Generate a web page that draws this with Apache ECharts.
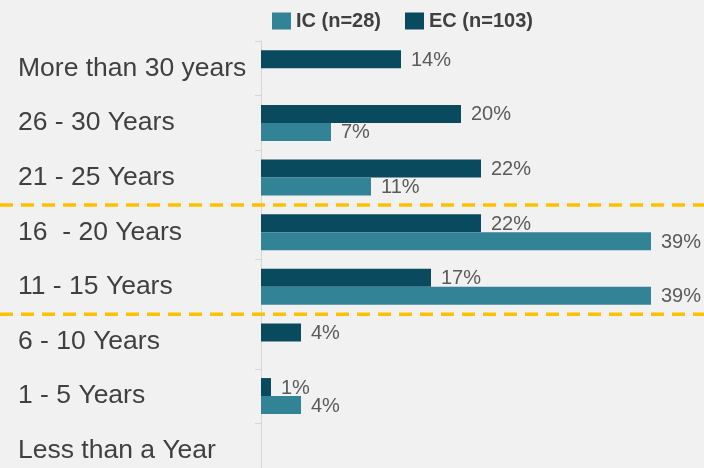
<!DOCTYPE html>
<html>
<head>
<meta charset="utf-8">
<script src="https://cdn.jsdelivr.net/npm/echarts@6/dist/echarts.min.js"></script>
<style>
  html, body { margin: 0; padding: 0; background: #f1f1f1; }
  #chart { width: 704px; height: 468px; }
</style>
</head>
<body>
<div id="chart"></div>
<script>
// Years of experience bands, top to bottom
const categories = [
  'More than 30 years', '26 - 30 Years', '21 - 25 Years', '16  - 20 Years',
  '11 - 15 Years', '6 - 10 Years', '1 - 5 Years', 'Less than a Year'
];
// Share of respondents (%) per band
const ecValues = [14, 20, 22, 22, 17, 4, 1, 0];
const icValues = [0, 7, 11, 39, 39, 0, 4, 0];
const seriesNames = ['IC (n=28)', 'EC (n=103)'];
// Band boundaries marked with dashed separators (between index i and i+1)
const separatorsAfter = [2, 4];

const EC_COLOR = '#0a4a5e';
const IC_COLOR = '#338396';

const labelStyle = {
  show: true,
  position: 'right',
  distance: 10,
  offset: [0, 1],
  fontFamily: 'Liberation Sans, Arial, sans-serif',
  fontSize: 20,
  color: '#5a5a5a',
  formatter: p => (p.value ? p.value + '%' : '')
};

const chart = echarts.init(document.getElementById('chart'), null, { renderer: 'canvas' });
chart.setOption({
  backgroundColor: '#f1f1f1',
  animation: false,
  legend: {
    data: [seriesNames[0], seriesNames[1]],
    left: 267,
    top: 6,
    itemWidth: 19,
    itemHeight: 17,
    itemGap: 24,
    icon: 'rect',
    textStyle: {
      fontFamily: 'Liberation Sans, Arial, sans-serif',
      fontSize: 20,
      fontWeight: 'bold',
      color: '#404040'
    }
  },
  grid: {
    left: 261, top: 41, width: 400, height: 437,
    containLabel: false, outerBoundsMode: 'none'
  },
  xAxis: {
    type: 'value', min: 0, max: 40, show: false
  },
  yAxis: {
    type: 'category',
    data: categories,
    inverse: true,
    axisLine: { show: true, lineStyle: { color: '#d6d6d6', width: 1 } },
    axisTick: { show: true, length: 6, lineStyle: { color: '#d6d6d6' } },
    axisLabel: {
      align: 'left',
      margin: 243,
      fontFamily: 'Liberation Sans, Arial, sans-serif',
      fontSize: 26.5,
      color: '#404040'
    }
  },
  series: [
    {
      name: seriesNames[1], type: 'bar', data: ecValues,
      barWidth: 18, barGap: '0%',
      itemStyle: { color: EC_COLOR },
      label: labelStyle
    },
    {
      name: seriesNames[0], type: 'bar', data: icValues,
      barWidth: 18, barGap: '0%',
      itemStyle: { color: IC_COLOR },
      label: labelStyle
    }
  ]
});

// Dashed separators across the full width, placed between bands
const lines = separatorsAfter.map(i => {
  const a = chart.convertToPixel({ yAxisIndex: 0 }, i);
  const b = chart.convertToPixel({ yAxisIndex: 0 }, i + 1);
  const y = (a + b) / 2;
  return {
    type: 'line',
    shape: { x1: 0, y1: y, x2: 704, y2: y },
    style: { stroke: '#ffc000', lineWidth: 3.5, lineDash: [13, 8] },
    z: 10
  };
});
chart.setOption({ graphic: lines });
</script>
</body>
</html>
